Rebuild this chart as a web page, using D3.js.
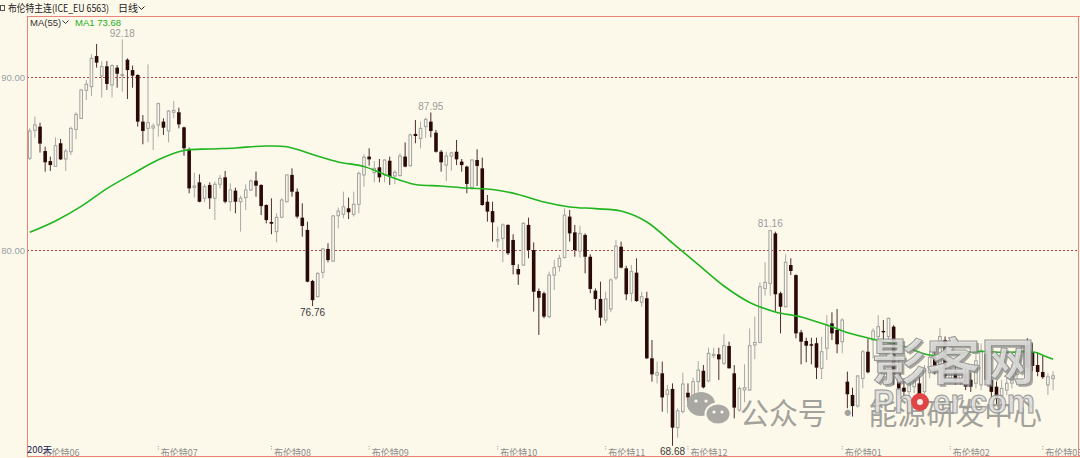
<!DOCTYPE html>
<html><head><meta charset="utf-8">
<script src="https://cdn.jsdelivr.net/npm/d3@7/dist/d3.min.js"></script>
<style>html,body{margin:0;padding:0;background:#fdf9ea;overflow:hidden}</style>
</head><body>
<svg id="c" width="1080" height="458"></svg>
<script>
// ---- data ----
const days = d3.range(1, 201);
const open = [85.30,86.92,87.13,85.72,85.14,84.84,86.17,85.26,85.68,86.97,87.61,89.23,89.44,91.21,90.06,90.62,89.54,90.54,90.08,91.00,
90.40,90.12,87.42,87.03,87.05,87.23,87.42,86.88,87.96,87.96,87.09,85.84,83.62,83.91,82.99,83.76,82.99,83.80,84.20,82.79,
83.43,82.79,83.03,83.47,84.01,83.76,82.60,81.62,81.06,81.89,82.79,84.34,83.37,81.87,81.16,78.21,77.30,78.71,80.06,79.36,
81.98,82.06,82.41,82.06,82.64,84.34,85.40,84.47,84.78,84.34,85.16,84.28,84.30,85.40,84.87,86.71,86.45,87.13,87.42,86.78,
85.68,84.91,85.43,85.68,85.11,84.82,83.60,85.20,84.72,82.79,82.25,80.52,80.67,81.45,80.58,78.90,79.13,81.45,80.00,77.63,
77.50,76.15,78.55,79.04,79.56,81.93,81.02,79.94,80.87,79.61,77.65,77.17,75.95,76.59,78.40,80.19,78.94,77.50,78.69,76.98,
77.21,73.74,72.77,72.87,71.66,71.97,69.73,70.66,71.75,71.58,72.39,73.02,72.43,73.89,73.97,73.45,74.45,72.87,70.75,71.91,
71.91,74.51,74.66,77.78,78.07,80.96,77.50,76.72,79.13,78.55,75.24,74.74,74.55,74.61,73.16,74.32,75.76,75.38,74.70,72.39,
71.62,70.98,72.58,74.12,74.80,74.99,75.32,74.99,75.57,72.87,72.04,71.81,72.10,72.29,71.81,72.90,73.80,73.40,74.80,72.60,
73.00,72.50,72.85,72.50,72.30,72.20,74.00,72.50,72.10,71.60,71.90,72.30,72.80,73.30,74.50,74.10,73.35,72.95,72.20,72.56];
const high = [87.03,87.71,87.36,85.97,85.40,86.51,86.42,85.84,87.13,87.96,89.31,89.83,91.31,91.91,90.92,90.92,90.73,90.69,92.18,91.08,
90.66,90.15,87.80,90.73,87.32,88.52,87.61,88.09,88.61,88.23,87.13,85.92,84.47,84.37,83.80,83.91,83.95,84.34,84.57,83.85,
83.60,83.14,83.80,84.08,84.53,83.80,82.64,82.99,82.12,82.99,84.37,84.72,83.56,82.70,81.64,78.27,78.71,80.10,80.39,82.02,
82.45,83.37,83.03,83.37,84.53,85.53,85.88,85.14,85.26,85.24,85.40,84.62,85.59,86.22,86.74,87.51,87.42,87.65,87.95,86.94,
85.78,85.68,85.68,86.36,85.26,84.87,85.26,85.82,85.34,83.18,82.79,81.35,81.54,81.48,80.91,79.17,81.60,81.87,80.44,77.78,
77.59,78.75,79.42,79.71,82.41,82.31,81.45,81.41,80.96,79.75,77.78,78.17,77.59,78.36,80.58,80.48,79.09,79.13,79.52,77.59,
77.59,74.80,73.55,73.55,72.20,72.29,70.85,72.91,72.29,72.62,73.58,73.35,74.35,74.35,74.35,75.13,74.70,73.35,72.10,73.39,
75.47,76.15,78.13,79.29,81.16,81.06,77.59,79.75,79.52,78.59,75.38,74.93,74.93,74.93,74.99,76.24,76.40,76.59,76.05,72.97,
72.04,72.77,74.22,74.89,75.47,76.24,75.95,76.09,75.66,73.74,72.58,72.77,72.97,72.68,73.35,74.20,74.30,75.50,75.00,73.40,
73.30,73.50,73.20,72.90,74.00,74.60,74.30,72.90,72.40,72.50,72.70,73.40,74.30,74.60,74.90,74.60,74.10,73.90,72.87,73.00];
const low = [85.20,86.49,85.63,84.53,84.57,84.82,85.20,84.57,85.49,86.40,87.57,88.67,88.90,90.54,88.81,89.25,88.81,89.38,89.15,88.73,
89.38,87.13,86.11,86.22,85.78,86.55,86.65,86.22,87.61,87.03,85.45,83.28,83.03,82.76,82.76,82.37,81.73,83.56,82.70,82.25,
82.12,81.06,82.31,83.41,83.08,82.02,81.54,80.91,80.44,81.83,82.76,83.08,81.83,80.77,78.13,76.76,77.26,78.36,79.29,79.33,
81.25,81.83,81.79,81.93,82.12,83.66,84.87,83.91,83.91,83.91,83.76,83.80,84.24,84.78,84.82,86.17,85.88,86.49,86.51,85.63,
84.53,83.99,84.59,84.91,84.53,83.28,83.47,83.70,82.56,81.64,80.48,80.13,79.29,79.71,78.59,77.98,79.09,79.52,76.44,75.09,
76.05,76.05,77.69,78.75,79.52,80.48,79.61,79.56,78.65,77.50,76.53,75.63,75.76,76.40,78.27,78.94,77.10,77.01,77.01,76.72,
73.70,72.39,72.29,70.66,70.56,68.68,69.15,70.56,70.94,70.94,71.81,72.00,72.35,73.74,72.49,73.35,73.16,70.27,70.66,71.19,
71.85,73.70,74.61,77.36,77.36,76.44,75.18,76.67,78.55,74.89,73.39,73.51,73.39,72.54,72.54,73.64,74.80,74.03,74.03,70.85,
70.37,70.89,72.00,72.87,73.74,74.70,74.70,74.80,72.20,71.62,71.43,71.52,71.71,71.04,71.62,72.60,72.80,73.20,72.50,72.30,
72.20,72.20,71.90,71.80,72.00,71.90,72.20,71.50,71.10,71.30,71.60,72.00,72.50,73.00,73.00,73.00,72.70,72.55,71.62,71.90];
const close = [86.88,87.23,86.15,85.07,84.91,86.03,85.24,85.72,87.03,87.84,89.25,89.58,91.08,90.83,90.60,89.60,90.66,90.19,90.15,90.40,
90.08,87.42,86.88,87.36,87.17,88.46,87.07,88.03,88.07,87.26,85.88,83.56,83.70,82.79,83.66,82.99,83.80,84.14,82.79,83.47,
82.79,82.99,83.47,83.99,83.72,82.54,81.73,81.52,81.89,82.89,84.34,83.37,81.93,81.39,78.17,77.10,78.65,80.06,79.42,81.97,
82.25,82.50,82.18,82.64,84.43,85.36,85.24,84.72,84.20,85.20,84.24,84.49,85.43,84.82,86.65,86.59,87.03,87.55,86.88,85.68,
85.07,85.43,85.61,85.24,84.91,83.82,85.20,84.86,82.60,82.22,81.60,80.60,81.45,79.81,79.13,78.59,81.54,80.00,77.59,77.24,
76.15,78.55,78.98,79.52,82.02,80.96,80.00,80.96,79.61,77.75,77.17,76.09,77.17,78.27,80.23,78.98,77.44,78.75,77.05,77.30,
73.74,72.81,72.91,71.48,71.91,69.73,70.71,72.25,71.48,72.39,73.06,72.06,74.03,73.97,73.68,74.47,73.16,70.89,72.00,72.04,
74.47,74.66,77.88,78.13,81.12,77.44,76.72,79.29,78.79,75.18,74.70,74.47,74.47,73.20,74.12,75.66,75.18,74.55,75.95,71.66,
70.98,72.72,74.12,72.93,75.32,75.57,75.24,76.05,72.77,72.00,71.81,72.29,72.43,71.23,73.16,73.80,73.30,75.00,72.70,73.00,
72.50,72.90,72.10,72.10,73.60,74.20,72.50,71.80,71.40,72.00,72.30,72.90,73.90,74.40,73.20,73.30,72.95,72.65,72.67,72.73];
const maDays = [1,6,11,16,21,26,31,36,41,46,51,56,61,66,71,76,81,86,91,96,101,106,111,116,121,126,131,136,141,146,151,156,161,166,171,176,181,186,191,196,198,200];
const maValues = [81.02,81.68,82.52,83.55,84.40,85.22,85.75,85.84,85.90,86.00,85.97,85.52,85.09,84.83,84.25,83.79,83.70,83.58,83.50,83.21,82.77,82.49,82.39,82.25,81.62,80.40,79.16,77.92,76.97,76.42,76.13,75.66,75.14,74.77,74.42,73.93,74.02,74.13,74.08,74.12,73.92,73.68];
const yTicks = [80, 90];
const contractLabels = ["布伦特06","布伦特07","布伦特08","布伦特09","布伦特10","布伦特11","布伦特12","布伦特01","布伦特02","布伦特03"];
const contractDays = [3,26,48,67,92,113,129,159,180,198];
const highMarkDays = [19,79,145];
const lowMarkDays = [56,126];

// ---- drawing ----
const W = 1080, H = 458;
const L = 27, R = 1078, T = 16, B = 456;
const BG = "#fdf9ea";
const svg = d3.select("#c");
const numFont = "'Liberation Sans', Arial, sans-serif";
const cjkFont = "'Noto Sans CJK SC', 'Liberation Sans', sans-serif";

svg.append("rect").attr("width", W).attr("height", H).attr("fill", BG);

const x = d3.scaleBand().domain(days).range([26.4, 1056.4]).padding(0.3);
const cx = d => x(d) + x.bandwidth() / 2;
const y = d3.scaleLinear().domain([80, 90]).range([250, 77]);

// grid + y labels
const yAxis = svg.append("g").attr("transform", `translate(${L},0)`)
  .call(d3.axisLeft(y).tickValues(yTicks).tickSize(-(R - L)).tickPadding(2).tickFormat(d3.format(".2f")));
yAxis.select(".domain").remove();
yAxis.selectAll(".tick line").attr("stroke", "#b84444").attr("stroke-dasharray", "2,2").attr("stroke-width", 1);
yAxis.selectAll(".tick text").attr("fill", "#98a0a8").attr("font-size", 9.5).attr("font-family", numFont);

// x labels
const xAxis = svg.append("g").attr("transform", `translate(0,446)`)
  .call(d3.axisBottom(x).tickValues(contractDays).tickSize(5).tickFormat(d => contractLabels[contractDays.indexOf(d)]));
xAxis.select(".domain").remove();
xAxis.selectAll(".tick line").attr("stroke", "#9a9a9a").attr("stroke-dasharray", "1,1.5");
xAxis.selectAll(".tick text").attr("text-anchor", "start").attr("x", 2.5).attr("y", 2).attr("dy", 0)
  .attr("dominant-baseline", "hanging").attr("fill", "#8c8c8c").attr("font-size", 9).attr("font-family", cjkFont);

// candles
const cg = svg.append("g");
const idx = days.map((d, i) => i);
cg.selectAll("line.w").data(idx).join("line")
  .attr("x1", i => cx(days[i])).attr("x2", i => cx(days[i]))
  .attr("y1", i => y(high[i])).attr("y2", i => y(low[i]))
  .attr("stroke", i => close[i] >= open[i] ? "#a8a8a8" : "#4c2e2e").attr("stroke-width", 1);
cg.selectAll("rect.b").data(idx).join("rect")
  .attr("x", i => close[i] >= open[i] ? x(days[i]) + 0.5 : x(days[i]))
  .attr("width", i => close[i] >= open[i] ? x.bandwidth() - 1 : x.bandwidth())
  .attr("y", i => y(Math.max(open[i], close[i])))
  .attr("height", i => Math.max(1, Math.abs(y(open[i]) - y(close[i]))))
  .attr("fill", i => close[i] >= open[i] ? BG : "#2a0909")
  .attr("stroke", i => close[i] >= open[i] ? "#a0a0a0" : "none")
  .attr("stroke-width", 1);

// moving average line
const ma = maDays.map((d, i) => [d, maValues[i]]);
svg.append("path").datum(ma)
  .attr("d", d3.line().x(p => cx(p[0])).y(p => y(p[1])).curve(d3.curveCatmullRom))
  .attr("fill", "none").attr("stroke", "#1fb51f").attr("stroke-width", 1.6);

// extreme value marks
highMarkDays.forEach(d => {
  svg.append("text").attr("x", cx(d)).attr("y", y(high[d - 1]) - 2.5)
    .attr("text-anchor", "middle").attr("fill", "#9c9c9c").attr("font-size", 10).attr("font-family", numFont)
    .text(d3.format(".2f")(high[d - 1]));
});
lowMarkDays.forEach(d => {
  svg.append("text").attr("x", cx(d)).attr("y", y(low[d - 1]) + 9.5)
    .attr("text-anchor", "middle").attr("fill", "#3a3a3a").attr("font-size", 10).attr("font-family", numFont)
    .text(d3.format(".2f")(low[d - 1]));
});

// watermark (as in the picture)
const wm = svg.append("g");
wm.append("ellipse").attr("cx", 701).attr("cy", 404).attr("rx", 14).attr("ry", 12).attr("fill", "#a9a8a2");
wm.append("ellipse").attr("cx", 718).attr("cy", 414).attr("rx", 12.5).attr("ry", 10.5).attr("fill", "#a9a8a2").attr("stroke", BG).attr("stroke-width", 2);
[[696,401],[706,401],[714,412],[722,412]].forEach(p => wm.append("circle").attr("cx", p[0]).attr("cy", p[1]).attr("r", 1.6).attr("fill", BG));
wm.append("text").attr("x", 740).attr("y", 424).attr("font-size", 30).attr("font-family", cjkFont)
  .attr("fill", "#a2a19c").attr("textLength", 302).attr("lengthAdjust", "spacingAndGlyphs").text("公众号 · 能源研发中心");
wm.append("text").attr("x", 874).attr("y", 382).attr("font-size", 50).attr("font-weight", "bold").attr("font-family", cjkFont)
  .attr("fill", "#6e6e6e").attr("opacity", 0.6).attr("textLength", 163).attr("lengthAdjust", "spacingAndGlyphs").text("影客网");
wm.append("text").attr("x", 872).attr("y", 380).attr("font-size", 50).attr("font-weight", "bold").attr("font-family", cjkFont)
  .attr("fill", "#dcdcda").attr("stroke", "#8e8e8e").attr("stroke-width", 1).attr("opacity", 0.88)
  .attr("textLength", 163).attr("lengthAdjust", "spacingAndGlyphs").text("影客网");
const ph = wm.append("text").attr("x", 873).attr("y", 413).attr("font-size", 34).attr("font-weight", "bold").attr("font-family", numFont)
  .attr("fill", "#dcdcda").attr("stroke", "#8e8e8e").attr("stroke-width", 1).attr("opacity", 0.9)
  .attr("textLength", 162).attr("lengthAdjust", "spacingAndGlyphs");
ph.append("tspan").text("Ph");
ph.append("tspan").attr("fill-opacity", 0).attr("stroke-opacity", 0).text("o");
ph.append("tspan").text("er.com");
wm.append("circle").attr("cx", 920).attr("cy", 402).attr("r", 9).attr("fill", "#e04545");
wm.append("circle").attr("cx", 920).attr("cy", 402).attr("r", 3).attr("fill", "#fbe9e6");

// frame
const fr = svg.append("g").attr("stroke", "#e8867c").attr("stroke-width", 1).attr("fill", "none");
fr.append("line").attr("x1", L + 0.5).attr("x2", L + 0.5).attr("y1", T).attr("y2", B + 1);
fr.append("line").attr("x1", L).attr("x2", W).attr("y1", T + 0.5).attr("y2", T + 0.5);
fr.append("line").attr("x1", L).attr("x2", W).attr("y1", B + 0.5).attr("y2", B + 0.5);
fr.append("line").attr("x1", R + 0.5).attr("x2", R + 0.5).attr("y1", T).attr("y2", B + 1);

// header
svg.append("rect").attr("x", 0.5).attr("y", 5.5).attr("width", 4).attr("height", 5).attr("fill", "none").attr("stroke", "#555");
svg.append("text").attr("x", 8).attr("y", 12).attr("font-size", 10).attr("font-family", cjkFont).attr("fill", "#222")
  .attr("textLength", 101).attr("lengthAdjust", "spacingAndGlyphs")
  .text("布伦特主连(ICE_EU 6563)");
svg.append("text").attr("x", 118).attr("y", 12).attr("font-size", 10).attr("font-family", cjkFont).attr("fill", "#222").text("日线");
svg.append("path").attr("d", "M138.5,6.5 L141.5,9.5 L144.5,6.5").attr("fill", "none").attr("stroke", "#222");
svg.append("text").attr("x", 30).attr("y", 26).attr("font-size", 9.5).attr("font-family", numFont).attr("fill", "#333").text("MA(55)");
svg.append("path").attr("d", "M62.5,20.5 L65.5,23.5 L68.5,20.5").attr("fill", "none").attr("stroke", "#333");
svg.append("text").attr("x", 75).attr("y", 26).attr("font-size", 9.5).attr("font-family", numFont).attr("fill", "#22b022")
  .text("MA1 " + d3.format(".2f")(maValues[maValues.length - 1]));
svg.append("text").attr("x", 27).attr("y", 453).attr("font-size", 9.5).attr("font-family", cjkFont).attr("fill", "#1c1c5a").text("200天");
</script>
</body></html>
